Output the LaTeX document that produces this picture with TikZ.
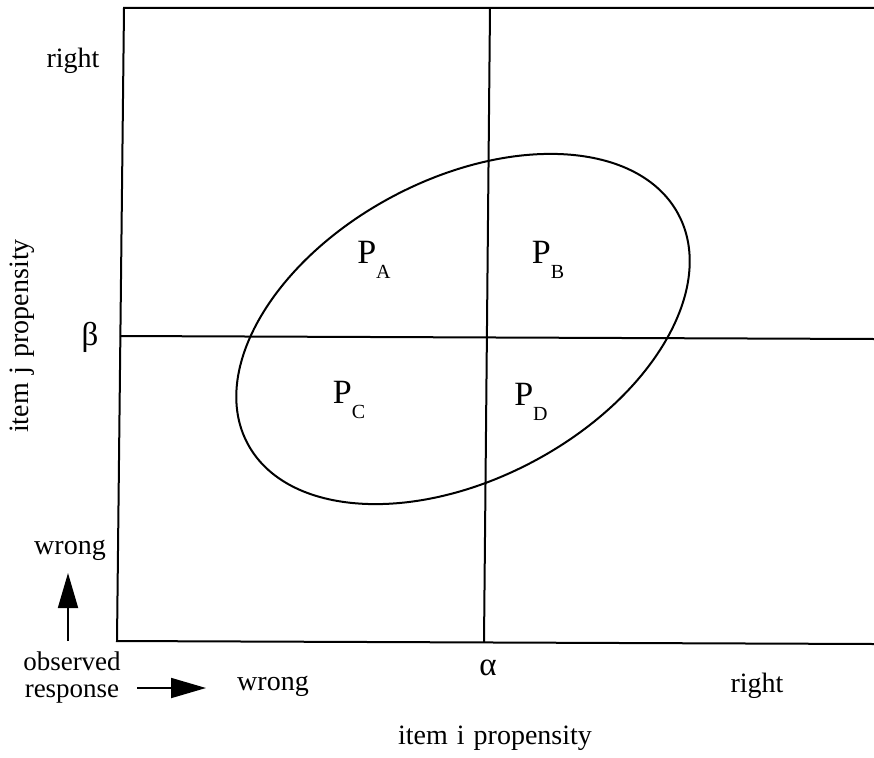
\documentclass[tikz,border=0pt]{standalone}
\usepackage{fontspec}
\setmainfont{Liberation Serif}
\usetikzlibrary{arrows.meta}
\begin{document}
\begin{tikzpicture}[x=1pt,y=-1pt,
  frame/.style={line width=2pt},
  lbl/.style={font=\fontsize{28}{24}\selectfont, inner sep=0pt},
  stacked/.style={font=\fontsize{27}{27}\selectfont, inner sep=0pt, align=center},
  greek/.style={font=\fontsize{33}{36}\selectfont, inner sep=0pt},
  pl/.style={font=\fontsize{34}{36}\selectfont, inner sep=0pt},
  bigarrow/.style={line width=1.8pt,-{Triangle[length=35pt,width=20pt]}}]
\useasboundingbox (0,0) rectangle (874,757);
% frame
\coordinate (tl) at (124,8);
\coordinate (tr) at (874,8);
\coordinate (bl) at (117,641);
\coordinate (br) at (874,644);
\draw[frame] (tr) -- (tl) -- (bl) -- (br);
\coordinate (vt) at (490,8);
\coordinate (vb) at (484,642);
\draw[frame] (vt) -- (vb);
\coordinate (hl) at (120,336);
\coordinate (hr) at (874,339);
\draw[frame] (hl) -- (hr);
% ellipse
\coordinate (ec) at (463,329);
\draw[frame, shift={(ec)}, rotate=28] (0,0) ellipse [x radius=244pt, y radius=150pt];
% region labels
\newcommand\subl[1]{\raisebox{-0.42em}{\fontsize{20}{22}\selectfont #1}}
\node[pl] (pa) at (374,260) {P\subl{A}};
\node[pl] (pb) at (548,260) {P\subl{B}};
\node[pl] (pc) at (349,400) {P\subl{C}};
\node[pl] (pd) at (531,402) {P\subl{D}};
% axis labels
\node[lbl] (yright) at (73,61) {right};
\node[greek] (beta) at (90,337) {β};
\node[lbl, rotate=90] (ylab) at (22,336) {item\hspace{9pt}j\hspace{9pt}propensity};
\node[lbl] (ywrong) at (70,550) {wrong};
\node[stacked] (obs) at (72,677) {observed\\response};
\node[lbl] (xwrong) at (273,686) {wrong};
\node[greek] (alpha) at (488,668) {α};
\node[lbl] (xright) at (757,686) {right};
\node[lbl] (xlab) at (495,738) {item\hspace{9pt}i\hspace{9pt}propensity};
% arrows
\coordinate (ua0) at (68,641);
\coordinate (ua1) at (68,573);
\draw[bigarrow] (ua0) -- (ua1);
\coordinate (ra0) at (137,688);
\coordinate (ra1) at (206,688);
\draw[bigarrow] (ra0) -- (ra1);
\end{tikzpicture}
\end{document}
